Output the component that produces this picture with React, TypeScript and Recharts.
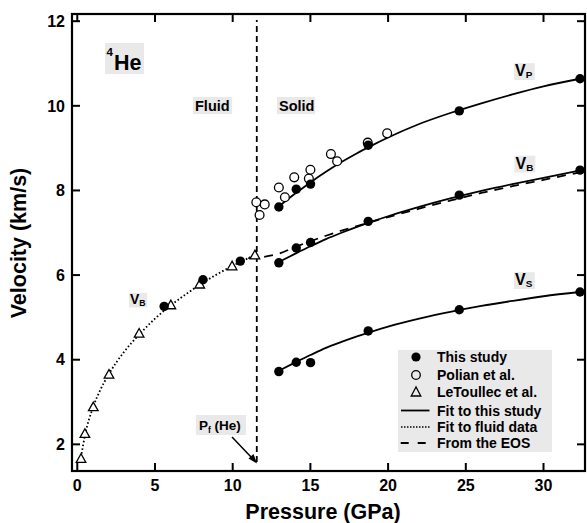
import { ComposedChart, Line, Scatter, XAxis, YAxis, ReferenceLine } from 'recharts';

// pressure (GPa) / velocity (km/s)
const studyP = [12.97, 14.09, 15.01, 18.72, 24.58, 32.35];
const studyVp = [7.61, 8.03, 8.15, 9.07, 9.88, 10.64];
const studyVb = [6.29, 6.64, 6.77, 7.27, 7.89, 8.48];
const studyVs = [3.72, 3.94, 3.93, 4.68, 5.18, 5.6];

const fluidStudyP = [5.59, 8.09, 10.49];
const fluidStudyV = [5.26, 5.89, 6.33];

const polianP = [11.52, 12.06, 11.73, 12.97, 13.36, 13.96, 14.9, 15.0, 16.32, 16.72, 18.69, 19.94];
const polianV = [7.72, 7.67, 7.42, 8.07, 7.84, 8.31, 8.28, 8.49, 8.86, 8.69, 9.13, 9.35];

const letoullecP = [0.24, 0.49, 1.03, 2.04, 3.98, 6.02, 7.88, 9.96, 11.43];
const letoullecV = [1.66, 2.25, 2.88, 3.65, 4.62, 5.29, 5.78, 6.21, 6.47];

// fitted curves, sampled from the drawn lines
const fitP = [12.97, 14, 15, 16, 17, 18, 19, 20, 22, 24, 26, 28, 30, 32.35];
const fitVp = [7.62, 7.92, 8.19, 8.44, 8.67, 8.88, 9.07, 9.25, 9.57, 9.83, 10.06, 10.27, 10.46, 10.64];
const fitVb = [6.31, 6.5, 6.68, 6.85, 7.0, 7.14, 7.27, 7.39, 7.61, 7.81, 7.99, 8.15, 8.3, 8.47];
const fitVs = [3.74, 3.93, 4.11, 4.28, 4.42, 4.55, 4.67, 4.78, 4.97, 5.13, 5.27, 5.39, 5.5, 5.6];

const fluidFitP = [0.2, 0.5, 1, 1.5, 2, 3, 4, 5, 6, 7, 8, 9, 10, 11, 11.55];
const fluidFitV = [1.6, 2.22, 2.86, 3.3, 3.64, 4.18, 4.6, 4.97, 5.28, 5.55, 5.8, 6.02, 6.22, 6.4, 6.5];

const eosP = [11.0, 12.0, 13.0, 14.0, 15.0, 16.0, 17.0, 18.0, 20.0, 22.0, 24.0, 26.0, 28.0, 30.0, 32.35];
const eosV = [6.4, 6.43, 6.51, 6.66, 6.8, 6.93, 7.05, 7.16, 7.37, 7.57, 7.76, 7.94, 8.1, 8.25, 8.43];

const meltP = 11.55;
const xTicks = [0, 5, 10, 15, 20, 25, 30];
const yTicks = [2, 4, 6, 8, 10, 12];
const xDomain = [-0.34, 32.67];
const yDomain = [1.37, 12.17];

const pts = (xs: number[], ys: number[]) => xs.map((p, i) => ({ p, v: ys[i] }));

const FONT = '"Liberation Sans", Arial, Helvetica, sans-serif';
const GRAY = '#e9e9e9';

// plot box (matches the chart margins / axis sizes below)
const LEFT = 72;
const TOP = 14;
const RIGHT = 585;
const BOTTOM = 471;
const TICK = 8;
const [pMin, pMax] = xDomain;
const [vMin, vMax] = yDomain;
const px = (p: number) => LEFT + ((p - pMin) / (pMax - pMin)) * (RIGHT - LEFT);
const py = (v: number) => BOTTOM - ((v - vMin) / (vMax - vMin)) * (BOTTOM - TOP);

const FilledDot = (props: any) => <circle cx={props.cx} cy={props.cy} r={4.7} fill="#000" />;
const OpenDot = (props: any) => (
  <circle cx={props.cx} cy={props.cy} r={4.4} fill="#fff" stroke="#000" strokeWidth={1.3} />
);
const Triangle = (props: any) => {
  const { cx, cy } = props;
  return (
    <polygon
      points={`${cx},${cy - 5} ${cx - 4.8},${cy + 3.6} ${cx + 4.8},${cy + 3.6}`}
      fill="#fff"
      stroke="#000"
      strokeWidth={1.3}
    />
  );
};

const tickStyle = { fill: '#000', fontSize: 16, fontWeight: 700, fontFamily: FONT };

function Vlabel({ x, y, sub, size = 16 }: { x: number; y: number; sub: string; size?: number }) {
  return (
    <g>
      <rect x={x - 1} y={y - size * 0.8} width={size * 1.3} height={size * 1.05} fill={GRAY} />
      <text x={x} y={y} fontSize={size} fontWeight={700} fontFamily={FONT}>
        V
        <tspan fontSize={size * 0.62} dy={size * 0.15}>{sub}</tspan>
      </text>
    </g>
  );
}

export default function App() {
  return (
    <div style={{ position: 'absolute', left: 0, top: 0, width: 587, height: 523, background: '#fff' }}>
      <ComposedChart width={587} height={523} margin={{ top: TOP, right: 587 - RIGHT, bottom: 0, left: 0 }}>
        <XAxis
          dataKey="p"
          type="number"
          domain={xDomain}
          ticks={xTicks}
          allowDataOverflow
          height={523 - BOTTOM}
          tickSize={0}
          tickMargin={9}
          tickLine={false}
          tick={tickStyle}
          stroke="#000"
          strokeWidth={1.6}
        />
        <YAxis
          dataKey="v"
          type="number"
          domain={yDomain}
          ticks={yTicks}
          allowDataOverflow
          width={LEFT}
          tickSize={0}
          tickMargin={7}
          tickLine={false}
          tick={tickStyle}
          stroke="#000"
          strokeWidth={1.6}
        />

        <ReferenceLine
          segment={[{ x: meltP, y: 1.58 }, { x: meltP, y: 12.03 }]}
          ifOverflow="visible"
          stroke="#000"
          strokeWidth={1.8}
          strokeDasharray="6 4"
        />

        <Line data={pts(fluidFitP, fluidFitV)} dataKey="v" type="monotone" dot={false} stroke="#000" strokeWidth={1.8} strokeDasharray="1.6 2.2" isAnimationActive={false} />
        <Line data={pts(eosP, eosV)} dataKey="v" type="monotone" dot={false} stroke="#000" strokeWidth={1.8} strokeDasharray="9 7" isAnimationActive={false} />
        <Line data={pts(fitP, fitVp)} dataKey="v" type="monotone" dot={false} stroke="#000" strokeWidth={1.8} isAnimationActive={false} />
        <Line data={pts(fitP, fitVb)} dataKey="v" type="monotone" dot={false} stroke="#000" strokeWidth={1.8} isAnimationActive={false} />
        <Line data={pts(fitP, fitVs)} dataKey="v" type="monotone" dot={false} stroke="#000" strokeWidth={1.8} isAnimationActive={false} />

        <Scatter data={pts(letoullecP, letoullecV)} dataKey="v" shape={Triangle} isAnimationActive={false} />
        <Scatter data={pts(polianP, polianV)} dataKey="v" shape={OpenDot} isAnimationActive={false} />
        <Scatter data={pts(fluidStudyP, fluidStudyV)} dataKey="v" shape={FilledDot} isAnimationActive={false} />
        <Scatter data={pts(studyP, studyVp)} dataKey="v" shape={FilledDot} isAnimationActive={false} />
        <Scatter data={pts(studyP, studyVb)} dataKey="v" shape={FilledDot} isAnimationActive={false} />
        <Scatter data={pts(studyP, studyVs)} dataKey="v" shape={FilledDot} isAnimationActive={false} />
      </ComposedChart>

      <svg width={587} height={523} style={{ position: 'absolute', left: 0, top: 0, pointerEvents: 'none' }}>
        {/* frame: top and right edges + inward ticks on all sides */}
        <rect x={LEFT} y={TOP} width={RIGHT - LEFT} height={BOTTOM - TOP} fill="none" stroke="#000" strokeWidth={2.2} />
        {xTicks.map((t) => (
          <g key={`x${t}`}>
            <rect x={px(t) - 1} y={BOTTOM - TICK} width={2} height={TICK} fill="#000" />
            <rect x={px(t) - 1} y={TOP} width={2} height={TICK} fill="#000" />
          </g>
        ))}
        {yTicks.map((t) => (
          <g key={`y${t}`}>
            <rect x={LEFT} y={py(t) - 1} width={TICK} height={2} fill="#000" />
            <rect x={RIGHT - TICK} y={py(t) - 1} width={TICK} height={2} fill="#000" />
          </g>
        ))}

        {/* axis titles */}
        <text x={323} y={519} textAnchor="middle" fontSize={21.5} fontWeight={700} fontFamily={FONT}>
          Pressure (GPa)
        </text>
        <text transform="translate(26,243) rotate(-90)" textAnchor="middle" fontSize={21.5} fontWeight={700} fontFamily={FONT}>
          Velocity (km/s)
        </text>

        {/* 4He */}
        <rect x={105} y={43} width={39} height={31} fill={GRAY} />
        <text x={106.5} y={56} fontSize={11.5} fontWeight={700} fontFamily={FONT}>4</text>
        <text x={114} y={69.5} fontSize={21.5} fontWeight={700} fontFamily={FONT}>He</text>

        {/* phase labels */}
        <rect x={193} y={97} width={39} height={17} fill={GRAY} />
        <text x={195} y={111} fontSize={14.5} fontWeight={700} fontFamily={FONT}>Fluid</text>
        <rect x={277} y={97} width={38} height={17} fill={GRAY} />
        <text x={279} y={111} fontSize={14.5} fontWeight={700} fontFamily={FONT}>Solid</text>

        <Vlabel x={515} y={76} sub="P" />
        <Vlabel x={515.5} y={168.5} sub="B" />
        <Vlabel x={515} y={285} sub="S" />
        <Vlabel x={130} y={304} sub="B" size={14} />

        {/* melting pressure marker */}
        <rect x={196} y={415} width={50} height={20} fill={GRAY} />
        <text x={199} y={430} fontSize={13.5} fontWeight={700} fontFamily={FONT}>
          P<tspan fontSize={8.5} dy={3}>f</tspan>
          <tspan dy={-3}> (He)</tspan>
        </text>
        <line x1={232} y1={437} x2={252} y2={458} stroke="#000" strokeWidth={1.5} />
        <polygon points="257,463.5 248.5,458.5 253.5,454" fill="#000" />

        {/* legend */}
        <rect x={398} y={350} width={154} height={102} fill={GRAY} />
        <circle cx={416} cy={357} r={4.6} fill="#000" />
        <circle cx={416} cy={375} r={4.3} fill="none" stroke="#000" strokeWidth={1.3} />
        <polygon points="416,387 411.2,396 420.8,396" fill="none" stroke="#000" strokeWidth={1.3} />
        <line x1={401} y1={410.5} x2={429.5} y2={410.5} stroke="#000" strokeWidth={1.8} />
        <line x1={401} y1={427} x2={429.5} y2={427} stroke="#000" strokeWidth={1.5} strokeDasharray="1.5 1.5" />
        <line x1={400.7} y1={443} x2={429.5} y2={443} stroke="#000" strokeWidth={1.8} strokeDasharray="8 9" />
        {['This study', 'Polian et al.', 'LeToullec et al.', 'Fit to this study', 'Fit to fluid data', 'From the EOS'].map(
          (t, i) => (
            <text key={t} x={437} y={[362, 380, 397, 415.5, 432, 448][i]} fontSize={14} fontWeight={700} fontFamily={FONT}>
              {t}
            </text>
          )
        )}
      </svg>
    </div>
  );
}
